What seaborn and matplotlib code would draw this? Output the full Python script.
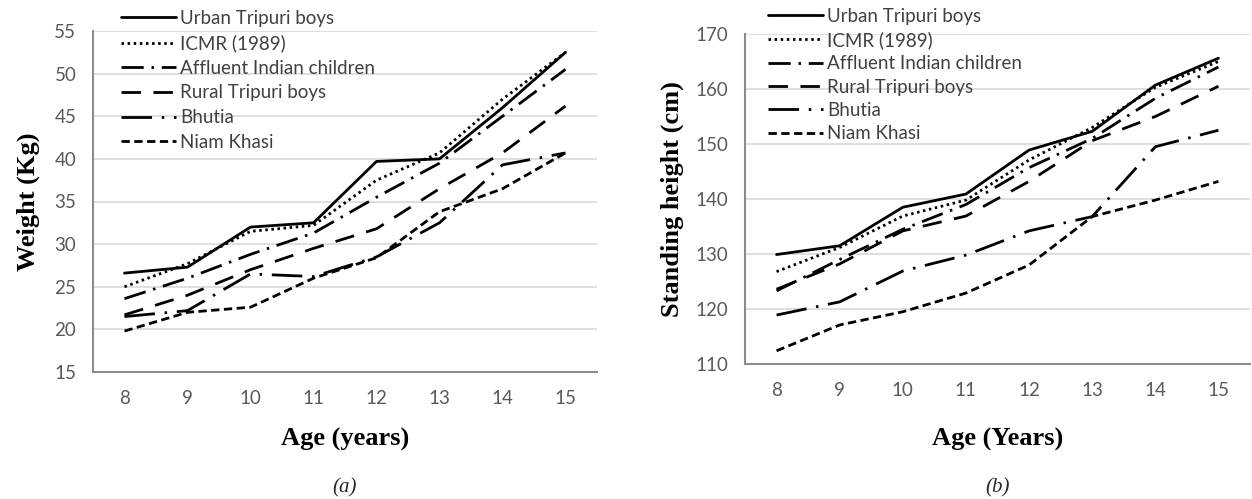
import matplotlib
matplotlib.use("Agg")
import matplotlib.pyplot as plt
import numpy as np
import pandas as pd
import seaborn as sns
from matplotlib.ticker import MultipleLocator

# Data
ages = [8, 9, 10, 11, 12, 13, 14, 15]
series_names = ["Urban Tripuri boys", "ICMR (1989)", "Affluent Indian children",
                "Rural Tripuri boys", "Bhutia", "Niam Khasi"]

weight_urban = [26.6, 27.3, 32.0, 32.5, 39.7, 40.0, 46.0, 52.5]
weight_icmr = [25.0, 27.7, 31.5, 32.2, 37.5, 40.7, 47.0, 52.5]
weight_affluent = [23.6, 26.0, 28.8, 31.3, 35.5, 39.5, 45.0, 50.5]
weight_rural = [21.7, 24.0, 27.0, 29.5, 31.8, 36.5, 40.7, 46.2]
weight_bhutia = [21.5, 22.2, 26.5, 26.2, 28.5, 32.5, 39.3, 40.7]
weight_niam = [19.8, 22.0, 22.6, 26.0, 28.4, 33.8, 36.5, 40.7]

height_urban = [129.9, 131.5, 138.5, 140.9, 148.9, 152.3, 160.7, 165.6]
height_icmr = [126.8, 131.2, 136.9, 139.8, 147.1, 153.0, 160.3, 165.0]
height_affluent = [123.3, 129.0, 134.5, 139.0, 145.7, 151.0, 158.3, 164.0]
height_rural = [123.6, 128.2, 134.2, 136.9, 143.2, 150.6, 155.0, 160.5]
height_bhutia = [118.9, 121.3, 126.9, 129.8, 134.2, 136.8, 149.5, 152.5]
height_niam = [112.4, 117.1, 119.5, 122.9, 128.0, 136.8, 139.8, 143.2]

weights = [weight_urban, weight_icmr, weight_affluent, weight_rural, weight_bhutia, weight_niam]
heights = [height_urban, height_icmr, height_affluent, height_rural, height_bhutia, height_niam]

line_styles = ["-", (0, (0.9, 1.3)), (0, (8, 2.8, 0.9, 2.8)), (0, (7, 4.5)),
               (0, (11, 3.5, 0.9, 3.5)), (0, (3, 1.6))]

sns.set_theme(style="white")
plt.rcParams["font.family"] = ["Lato", "DejaVu Sans"]

tick_gray = "#595959"
grid_gray = "#d9d9d9"
spine_gray = "#8c8c8c"


def draw_panel(ax, values, ylim, major, minor, ylabel, xlabel, legend_anchor, spacing):
    for name, vals, ls in zip(series_names, values, line_styles):
        sns.lineplot(x=ages, y=vals, ax=ax, color="black", lw=2.0, linestyle=ls, label=name)
    ax.set_xlim(7.5, 15.5)
    ax.set_ylim(*ylim)
    ax.set_xticks(ages)
    ax.xaxis.set_minor_locator(MultipleLocator(0.5))
    ax.yaxis.set_major_locator(MultipleLocator(major))
    ax.yaxis.set_minor_locator(MultipleLocator(minor))
    ax.grid(axis="y", color=grid_gray, lw=1.2)
    ax.set_axisbelow(True)
    for s in ["top", "right"]:
        ax.spines[s].set_visible(False)
    for s in ["left", "bottom"]:
        ax.spines[s].set_color(spine_gray)
        ax.spines[s].set_linewidth(1.5)
    ax.tick_params(axis="both", which="both", colors=spine_gray, labelcolor=tick_gray, labelsize=13.5)
    ax.tick_params(axis="both", which="major", length=5, width=1.2, direction="out")
    ax.tick_params(axis="both", which="minor", length=4, width=1.0, direction="out")
    ax.tick_params(axis="y", which="major", pad=7)
    ax.tick_params(axis="x", which="major", pad=8)
    ax.set_ylabel(ylabel, fontfamily="Liberation Serif", fontweight="bold", fontsize=19, color="black")
    ax.set_xlabel(xlabel, fontfamily="Liberation Serif", fontweight="bold", fontsize=19, color="black")
    ax.legend(loc="upper left", bbox_to_anchor=legend_anchor, frameon=False, fontsize=13.5,
              handlelength=2.9, handletextpad=0.25, labelspacing=spacing, borderpad=0,
              borderaxespad=0, labelcolor="#404040")


fig = plt.figure(figsize=(12.52, 4.99), dpi=100)
ax1 = fig.add_axes([93 / 1252, (499 - 372) / 499, 504 / 1252, 341 / 499])
ax2 = fig.add_axes([745 / 1252, (499 - 364) / 499, 505 / 1252, 330 / 499])

draw_panel(ax1, weights, (15, 55), 5, 2.5, "Weight (Kg)", "Age (years)", (0.056, 1.063), 0.41)
draw_panel(ax2, heights, (110, 170), 10, 5, "Standing height (cm)", "Age (Years)", (0.046, 1.08), 0.34)

ax1.yaxis.set_label_coords(-0.105, 0.5)
ax2.yaxis.set_label_coords(-0.12, 0.5)
ax1.xaxis.set_label_coords(0.5, -0.164)
ax2.xaxis.set_label_coords(0.5, -0.194)

fig.text(345 / 1252, 0.022, "(a)", fontfamily="Liberation Serif", fontstyle="italic", fontsize=15,
         ha="center", va="center")
fig.text(998 / 1252, 0.022, "(b)", fontfamily="Liberation Serif", fontstyle="italic", fontsize=15,
         ha="center", va="center")

fig.savefig("out.png", dpi=100)
